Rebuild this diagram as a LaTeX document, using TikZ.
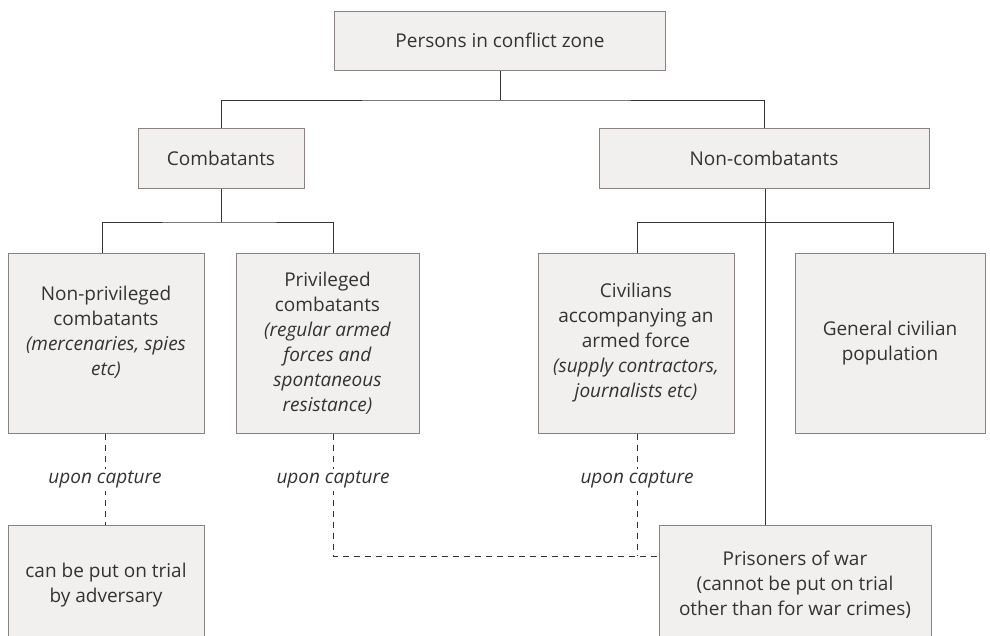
\documentclass[tikz,border=0pt]{standalone}
\usepackage{fontspec}
\setmainfont{Open Sans}
\definecolor{boxfill}{HTML}{F2F0EF}
\definecolor{boxline}{HTML}{8A8280}
\definecolor{txt}{HTML}{333333}
\definecolor{conn}{HTML}{333333}
\begin{document}
\begin{tikzpicture}[x=1pt,y=-1pt,
  every node/.style={font=\fontsize{19}{25}\selectfont, text=txt},
  box/.style={draw=boxline, fill=boxfill, line width=1pt, inner sep=0pt, align=center},
  conn/.style={draw=conn, line width=0.9pt},
  dconn/.style={draw=conn, line width=0.9pt, dash pattern=on 6pt off 5pt},
  lab/.style={fill=white, inner sep=2pt, font=\fontsize{19}{25}\selectfont\itshape}]
\useasboundingbox (0,0) rectangle (990,635);
\clip (0,0) rectangle (990,635);
% boxes
\node[box, minimum width=331pt, minimum height=59pt] (top) at (500,40.5) {Persons in conflict zone};
\node[box, minimum width=166pt, minimum height=60pt] (comb) at (221,158) {Combatants};
\node[box, minimum width=330pt, minimum height=60pt] (noncomb) at (764,158) {Non-combatants};
\node[box, minimum width=196pt, minimum height=180pt] (np) at (106,343) {Non-privileged\\combatants\\\textit{(mercenaries, spies}\\\textit{etc)}\\~};
\node[box, minimum width=183pt, minimum height=180pt] (pr) at (327.5,343) {Privileged\\combatants\\\textit{(regular armed}\\\textit{forces and}\\\textit{spontaneous}\\\textit{resistance)}};
\node[box, minimum width=196pt, minimum height=180pt] (civ) at (636,343) {Civilians\\accompanying an\\armed force\\\textit{(supply contractors,}\\\textit{journalists etc)}};
\node[box, minimum width=190pt, minimum height=180pt] (gen) at (890,343) {General civilian\\population};
\node[box, minimum width=196pt, minimum height=120pt] (trial) at (106,585) {can be put on trial\\by adversary};
\node[box, minimum width=272pt, minimum height=120pt] (pow) at (795,585) {Prisoners of war\\(cannot be put on trial\\other than for war crimes)};
% solid connectors
\coordinate (j0) at (500,100);
\coordinate (j1) at (221,222);
\coordinate (j2) at (637,222);
\draw[conn] (top.south) -- (j0);
\draw[conn] (comb.north) |- (j0) -| (noncomb.north);
\draw[conn] (comb.south) -- (j1);
\draw[conn] (np.north -| 102,0) |- (j1) -| (pr.north -| 333,0);
\draw[conn] (civ.north -| 637,0) |- (j2) -| (gen.north -| 893,0);
\draw[conn] (noncomb.south -| 765,0) -- (pow.north -| 765,0);
% dashed connectors
\coordinate (d1) at (333,556);
\coordinate (d2) at (637,556);
\draw[dconn] (np.south -| 105,0) -- (trial.north -| 105,0);
\draw[dconn] (pr.south -| 333,0) -- (d1) -- (pow.west |- d1);
\draw[dconn] (civ.south -| 637,0) -- (d2);
% labels
\node[lab] (l1) at (105,480) {upon capture};
\node[lab] (l2) at (333,480) {upon capture};
\node[lab] (l3) at (637,480) {upon capture};
\end{tikzpicture}
\end{document}
